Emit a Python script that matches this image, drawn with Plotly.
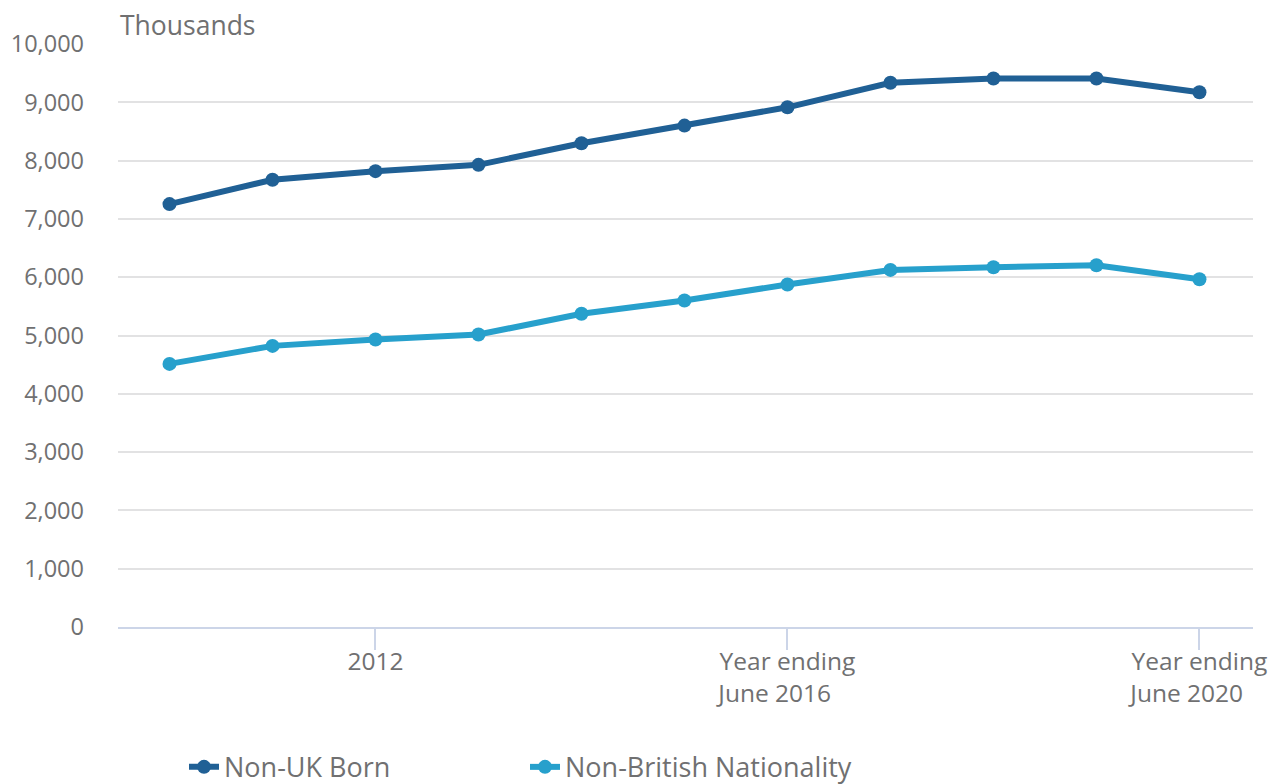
import plotly.graph_objects as go

periods = ["2010", "2011", "2012", "2013", "2014", "2015",
           "Year ending June 2016", "Year ending June 2017", "Year ending June 2018",
           "Year ending June 2019", "Year ending June 2020"]
non_uk_born = [7254, 7671, 7819, 7927, 8297, 8600, 8914, 9335, 9409, 9409, 9172]
non_british = [4513, 4822, 4931, 5017, 5372, 5600, 5875, 6125, 6171, 6206, 5966]
tick_index = [2, 6, 10]
nb = "\u00a0" * 4
tick_labels = ["2012", "Year ending<br>June 2016" + nb, "Year ending<br>June 2020" + nb]
y_ticks = [0, 1000, 2000, 3000, 4000, 5000, 6000, 7000, 8000, 9000, 10000]

x = list(range(len(periods)))
grey = "#707071"
font = "Open Sans"

fig = go.Figure()
fig.add_trace(go.Scatter(x=x, y=non_uk_born, name="Non-UK Born", mode="lines+markers",
                         line=dict(color="#206095", width=6),
                         marker=dict(color="#206095", size=14),
                         customdata=periods, hovertemplate="%{customdata}: %{y:,}<extra></extra>"))
fig.add_trace(go.Scatter(x=x, y=non_british, name="Non-British Nationality", mode="lines+markers",
                         line=dict(color="#27a0cc", width=6),
                         marker=dict(color="#27a0cc", size=14),
                         customdata=periods, hovertemplate="%{customdata}: %{y:,}<extra></extra>"))

W, H = 1269, 776
fig.update_layout(
    width=W, height=H,
    margin=dict(l=110, r=24, t=36, b=157),
    paper_bgcolor="white", plot_bgcolor="white",
    font=dict(family=font, color=grey, size=23),
    showlegend=True,
    legend=dict(orientation="h", xref="container", yref="container",
                x=0.1387, xanchor="left", y=0.0215, yanchor="middle",
                font=dict(size=27, color=grey), entrywidth=296, entrywidthmode="pixels",
                itemwidth=30),
    xaxis=dict(range=[-0.5, 10.52], tickmode="array", tickvals=tick_index, ticktext=tick_labels,
               showgrid=False, zeroline=False, showline=True, linecolor="#ccd5e8", linewidth=2,
               ticks="outside", ticklen=21, tickcolor="#ccd5e8", tickwidth=2,
               ticklabelstandoff=-9,
               tickfont=dict(size=24.5, color=grey), automargin=False),
    yaxis=dict(range=[0, 10000], tickmode="array", tickvals=y_ticks, tickformat=",",
               showgrid=True, gridcolor="#e2e2e3", gridwidth=2, zeroline=False,
               showline=False, ticks="", ticklabelstandoff=33,
               tickfont=dict(size=23.5, color=grey), automargin=False),
    annotations=[dict(text="Thousands", xref="paper", yref="paper", x=0, y=1.0326,
                      xanchor="left", yanchor="middle", showarrow=False,
                      font=dict(size=26.5, color=grey))],
)

fig.write_html("out.html")
